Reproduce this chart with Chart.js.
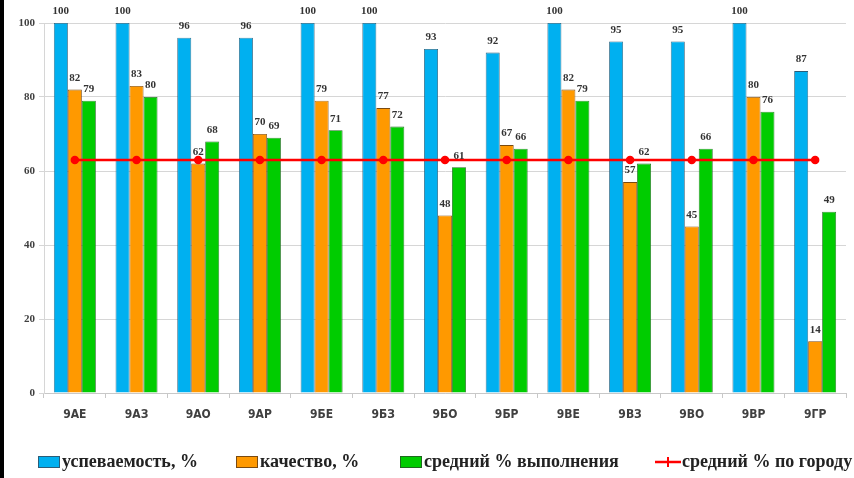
<!DOCTYPE html>
<html>
<head>
<meta charset="utf-8">
<script src="https://cdn.jsdelivr.net/npm/chart.js@4"></script>
<style>
html,body{margin:0;padding:0;background:#fff;}
#wrap{width:854px;height:478px;position:relative;}
</style>
</head>
<body>
<div id="wrap"><canvas id="c" width="854" height="478"></canvas></div>
<script>
const categories = ['9АЕ','9АЗ','9АО','9АР','9БЕ','9БЗ','9БО','9БР','9ВЕ','9ВЗ','9ВО','9ВР','9ГР'];
const seriesNames = ['успеваемость, %','качество, %','средний % выполнения','средний % по городу'];
const uspevaemost = [100,100,96,96,100,100,93,92,100,95,95,100,87];
const kachestvo = [82,83,62,70,79,77,48,67,82,57,45,80,14];
const sredniy = [79,80,68,69,71,72,61,66,79,62,66,76,49];
const poGorodu = [63,63,63,63,63,63,63,63,63,63,63,63,63];
const yTicks = [0,20,40,60,80,100];

const colors = ['#00b0f0','#ff9900','#00cc00','#ff0000'];
const borders = ['#2a5d78','#7a4a10','#1f6a1f','#ff0000'];

const dataLabels = {
  id:'dataLabels',
  afterDatasetsDraw(chart){
    const ctx = chart.ctx;
    ctx.save();
    ctx.font = 'bold 11px "Liberation Serif", serif';
    ctx.fillStyle = '#333';
    ctx.textAlign = 'center';
    ctx.textBaseline = 'bottom';
    chart.data.datasets.forEach((ds,di)=>{
      if(ds.type!=='bar') return;
      const meta = chart.getDatasetMeta(di);
      meta.data.forEach((bar,i)=>{
        ctx.fillText(String(ds.data[i]), bar.x, bar.y - 6);
      });
    });
    ctx.restore();
  }
};

const frame = {
  id:'frame',
  beforeDraw(chart){
    const ctx = chart.ctx;
    ctx.save();
    ctx.fillStyle = '#fff';
    ctx.fillRect(0,0,chart.width,chart.height);
    ctx.restore();
  },
  afterDraw(chart){
    const ctx = chart.ctx;
    ctx.save();
    ctx.fillStyle = '#000';
    ctx.fillRect(0,0,4,chart.height);
    const y = 462;
    ctx.font = 'bold 18px "Liberation Serif", serif';
    ctx.textBaseline = 'middle';
    ctx.textAlign = 'left';
    const items = [
      {x:38, type:'box', c:colors[0], b:borders[0], t:seriesNames[0]},
      {x:236, type:'box', c:colors[1], b:borders[1], t:seriesNames[1]},
      {x:400, type:'box', c:colors[2], b:borders[2], t:seriesNames[2]},
      {x:655, type:'line', c:colors[3], t:seriesNames[3]}
    ];
    items.forEach(it=>{
      if(it.type==='box'){
        ctx.fillStyle = it.c;
        ctx.fillRect(it.x, y-6, 22, 12);
        ctx.strokeStyle = it.b;
        ctx.lineWidth = 1;
        ctx.strokeRect(it.x+0.5, y-5.5, 21, 11);
      } else {
        ctx.strokeStyle = it.c;
        ctx.lineWidth = 2.5;
        ctx.beginPath(); ctx.moveTo(it.x, y); ctx.lineTo(it.x+26, y); ctx.stroke();
        ctx.lineWidth = 2;
        ctx.beginPath(); ctx.moveTo(it.x+13, y-5); ctx.lineTo(it.x+13, y+5); ctx.stroke();
      }
      ctx.fillStyle = '#222';
      ctx.fillText(it.t, it.x + (it.type==='box'?24:27), y);
    });
    ctx.restore();
  }
};

const ctx = document.getElementById('c').getContext('2d');
new Chart(ctx, {
  data: {
    labels: categories,
    datasets: [
      {type:'line', label:seriesNames[3], data:poGorodu, borderColor:colors[3], backgroundColor:colors[3],
       borderWidth:2.5, pointRadius:3, pointHoverRadius:3, pointBackgroundColor:colors[3], pointBorderColor:colors[3], order:0},
      {type:'bar', label:seriesNames[0], data:uspevaemost, backgroundColor:colors[0], borderColor:borders[0], borderWidth:0.8, order:1},
      {type:'bar', label:seriesNames[1], data:kachestvo, backgroundColor:colors[1], borderColor:borders[1], borderWidth:0.8, order:1},
      {type:'bar', label:seriesNames[2], data:sredniy, backgroundColor:colors[2], borderColor:borders[2], borderWidth:0.8, order:1}
    ]
  },
  options: {
    responsive:false,
    animation:false,
    devicePixelRatio:1,
    layout:{padding:{top:23,right:8,bottom:0,left:0}},
    datasets:{bar:{categoryPercentage:0.68, barPercentage:1}},
    plugins:{legend:{display:false}, tooltip:{enabled:false}, title:{display:false}},
    scales:{
      x:{
        grid:{display:true, drawOnChartArea:false, offset:true, color:'#c8c8c8', tickLength:5},
        border:{display:true, color:'#c8c8c8'},
        ticks:{font:{family:'"DejaVu Sans Condensed","Liberation Sans Narrow",sans-serif', size:12, weight:'bold'}, color:'#404040', padding:10},
        afterFit(s){ s.height = 85; }
      },
      y:{
        min:0, max:100,
        afterBuildTicks(s){ s.ticks = yTicks.map(v=>({value:v})); },
        grid:{color:'#d6d6d6', tickLength:5},
        border:{display:true, color:'#d6d6d6'},
        ticks:{font:{family:'"Liberation Serif",serif', size:11, weight:'bold'}, color:'#404040', padding:4},
        afterFit(s){ s.width = 44; }
      }
    }
  },
  plugins:[frame, dataLabels]
});
</script>
</body>
</html>
